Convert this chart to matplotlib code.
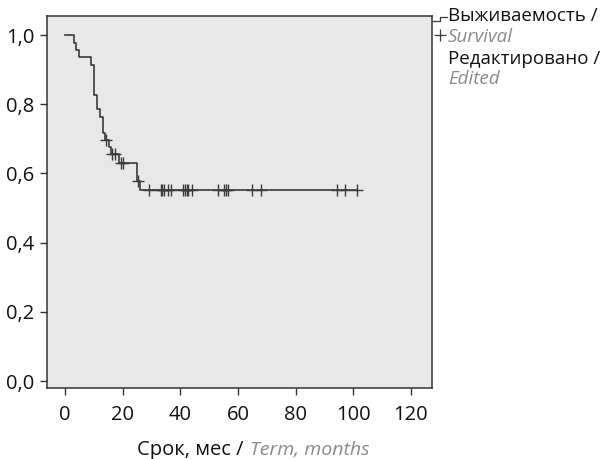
import matplotlib.pyplot as plt
from matplotlib.lines import Line2D
import numpy as np

plt.rcParams['font.family'] = ['Open Sans', 'DejaVu Sans']

# Kaplan-Meier steps
event_times = [0, 3.1, 4.0, 5.0, 9.2, 10.2, 11.2, 12.1, 13.1, 13.9, 15.4, 16.0, 18.6, 25.0, 26.2]
survival = [1.0, 0.978, 0.957, 0.937, 0.913, 0.827, 0.785, 0.762, 0.718, 0.697, 0.677, 0.655, 0.630, 0.578, 0.552]
censor_times = [14.1, 16.4, 17.3, 19.4, 20.0, 25.5, 29.1, 33.2, 33.7, 34.4, 35.8, 36.7,
                41.0, 41.6, 42.2, 42.8, 44.2, 53.2, 55.3, 55.9, 56.6, 65.0, 68.0,
                94.2, 97.1, 101.2]
xticks = [0, 20, 40, 60, 80, 100, 120]
yticks = [0.0, 0.2, 0.4, 0.6, 0.8, 1.0]

line_col = '#3a3a3a'
grey_txt = '#8a8a8a'
fs = 13.5

fig = plt.figure(figsize=(6.08, 4.59), dpi=100)
ax = fig.add_axes([47/608, 1 - 388/459, (432-47)/608, (388-16)/459])
ax.set_facecolor('#e8e8e8')

# survival curve, extended to last censored observation
xs = event_times + [censor_times[-1]]
ys = survival + [survival[-1]]
ax.step(xs, ys, where='post', color=line_col, lw=1.2)

# censor marks
idx = np.searchsorted(event_times, censor_times, side='right') - 1
cy = [survival[i] for i in idx]
ax.plot(censor_times, cy, ls='none', marker='+', ms=8, mew=1.0, color=line_col)

ax.set_xlim(-6.2, 127.3)
ax.set_ylim(-0.02, 1.055)
ax.set_xticks(xticks)
ax.set_xticklabels([str(t) for t in xticks])
ax.set_yticks(yticks)
ax.set_yticklabels([f'{v:.1f}'.replace('.', ',') for v in yticks])
ax.tick_params(direction='out', length=5, width=1, color='#333333',
               labelsize=14.5, labelcolor='#111111')
ax.tick_params(axis='x', pad=7)
ax.tick_params(axis='y', pad=4)
for s in ax.spines.values():
    s.set_color('#333333')
    s.set_linewidth(1.1)

# x-axis label: black Russian + grey italic English
fig.text(249/608, 1 - 450/459, 'Срок, мес / ', ha='right', va='center',
         fontsize=14.5, color='#111111')
fig.text(250/608, 1 - 450/459, 'Term, months', ha='left', va='center',
         fontsize=14, color=grey_txt, style='italic')

# legend outside the axes (figure coordinates)
W, H = 608, 459
fig.add_artist(Line2D(np.array([433, 440, 440, 447]) / W,
                      1 - np.array([21, 21, 17, 17]) / H,
                      color=line_col, lw=0.9))
fig.add_artist(Line2D([440 / W], [1 - 35 / H], ls='none', marker='+', ms=9,
                      mew=0.9, color=line_col))
fig.text(448/W, 1 - 16/H, 'Выживаемость /', ha='left', va='center',
         fontsize=fs, color='#111111')
fig.text(448/W, 1 - 37/H, 'Survival', ha='left', va='center',
         fontsize=fs, color=grey_txt, style='italic')
fig.text(448/W, 1 - 59/H, 'Редактировано /', ha='left', va='center',
         fontsize=fs, color='#111111')
fig.text(448/W, 1 - 79/H, 'Edited', ha='left', va='center',
         fontsize=fs, color=grey_txt, style='italic')

fig.savefig('out.png', dpi=100)
